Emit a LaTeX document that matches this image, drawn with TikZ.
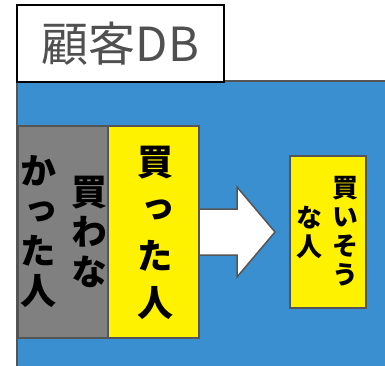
\documentclass[tikz,border=0pt]{standalone}
\usepackage{fontspec}
\newfontfamily\jp{Noto Sans CJK JP}
\newfontfamily\jpv[RawFeature=+vert]{Noto Sans CJK JP}
\definecolor{dbblue}{RGB}{58,143,208}
\definecolor{edgegray}{RGB}{85,85,85}
\definecolor{boxgray}{RGB}{128,128,128}
\definecolor{titlegray}{RGB}{80,80,80}
\begin{document}
\begin{tikzpicture}[x=1pt,y=-1pt,
  box/.style={draw=edgegray,line width=1.5pt,inner sep=0pt,minimum height=212pt,minimum width=90pt},
  vcol/.style={align=center,inner sep=0pt,text=black,font=\jpv\bfseries\fontsize{36}{40}\selectfont},
  vsmall/.style={align=center,inner sep=0pt,text=black,font=\jpv\bfseries\fontsize{26}{29}\selectfont}]
\useasboundingbox (0,0) rectangle (385,366);
% blue database area
\fill[dbblue] (17,81) rectangle (390,370);
\draw[edgegray,line width=1.5pt] (17,370) -- (17,81) -- (390,81);
% arrow
\draw[edgegray,line width=1.5pt,fill=white,line join=miter]
  (190,209) -- (237,209) -- (237,187) -- (275,232) -- (237,277) -- (237,255) -- (190,255) -- cycle;
% boxes
\node[box,fill=boxgray] (notbought) at (63,232) {};
\node[box,fill=yellow,minimum width=91pt] (bought) at (153.5,232) {};
\node[box,fill=yellow,minimum width=76pt,minimum height=152pt] (likely) at (328,232) {};
% vertical texts
\node[vcol] (nb1) at (89,232) {買\\わ\\な};
\node[vcol] (nb2) at (38,232) {か\\っ\\た\\人};
\node[vcol,font=\jpv\bfseries\fontsize{36}{47}\selectfont] (b1) at (155,233) {買\\っ\\た\\人};
\node[vsmall] (l1) at (345,231) {買\\い\\そ\\う};
\node[vsmall] (l2) at (309,232) {な\\人};
% title
\node[draw=black,line width=1.5pt,fill=white,minimum width=207pt,minimum height=77pt,inner sep=0pt,
  text=titlegray,font=\jp\fontsize{47}{47}\selectfont] (title) at (120.5,43.5) {顧客DB};
\end{tikzpicture}
\end{document}
